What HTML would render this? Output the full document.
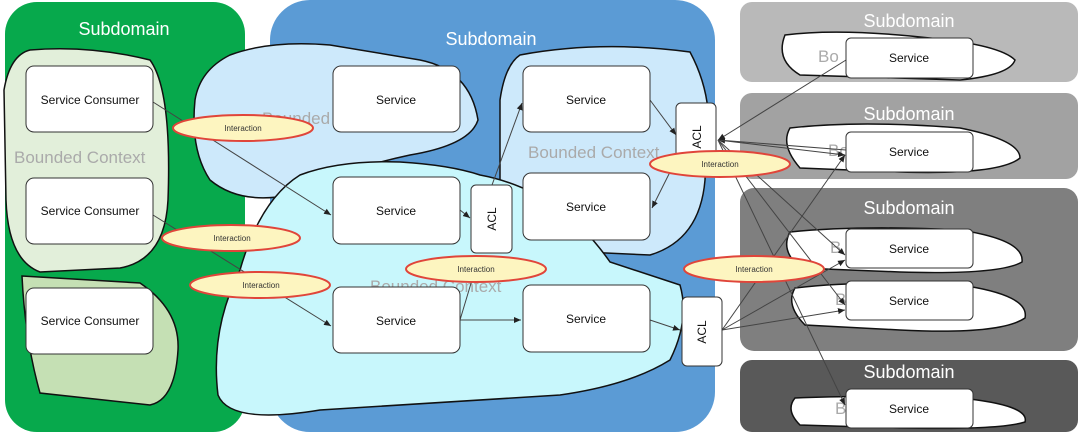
<!DOCTYPE html>
<html><head><meta charset="utf-8"><style>
html,body{margin:0;padding:0;background:#fff;width:1080px;height:435px;overflow:hidden}
text{font-family:"Liberation Sans",sans-serif}
</style></head><body>
<svg width="1080" height="435" viewBox="0 0 1080 435" xmlns="http://www.w3.org/2000/svg">
<defs><marker id="a" markerWidth="8" markerHeight="8" refX="7" refY="4" orient="auto"><path d="M0,1 L7,4 L0,7z" fill="#222"/></marker></defs>
<rect x="5" y="2" width="240" height="430" rx="32" fill="#07a94c"/>
<rect x="270" y="0" width="445" height="432" rx="40" fill="#5b9bd5"/>
<rect x="740" y="2" width="338" height="80" rx="12" fill="#b9b9b9"/>
<rect x="740" y="93" width="338" height="86" rx="12" fill="#a2a2a2"/>
<rect x="740" y="188" width="338" height="163" rx="14" fill="#7f7f7f"/>
<rect x="740" y="360" width="338" height="72" rx="12" fill="#595959"/>
<g fill="#fff" font-size="18" text-anchor="middle">
<text x="124" y="35">Subdomain</text><text x="491" y="45">Subdomain</text>
<text x="909" y="27">Subdomain</text><text x="909" y="120">Subdomain</text>
<text x="909" y="214">Subdomain</text><text x="909" y="378">Subdomain</text></g>
<g stroke="#111" stroke-width="1.5">
<path d="M30,50 Q90,45 150,60 Q172,90 168,200 Q165,260 120,268 L40,272 Q8,260 6,200 L4,90 Q10,55 30,50z" fill="#e2efda"/>
<path d="M22,276 L140,283 Q180,310 178,350 Q175,400 150,405 L40,393 Q25,340 22,276z" fill="#c5e0b4"/>
<path d="M230,55 Q270,40 330,45 L420,60 Q470,70 478,120 Q470,145 410,155 Q340,170 290,195 Q240,205 210,180 Q190,150 195,100 Q200,70 230,55z" fill="#cde9fb"/>
<path d="M520,55 Q600,40 690,52 Q705,80 708,110 L705,180 Q700,240 650,255 L540,250 Q505,240 500,200 L500,100 Q505,65 520,55z" fill="#cde9fb"/>
<path d="M300,175 Q340,160 400,162 Q450,165 480,175 Q560,190 610,262 Q650,275 680,285 Q690,320 670,360 Q630,385 560,395 L320,410 Q230,425 218,395 Q210,330 240,270 Q260,200 300,175z" fill="#c8f7fc"/>
<path d="M785,35 Q840,28 930,38 Q1000,45 1015,60 Q1010,75 960,80 L800,75 Q775,60 785,35z" fill="#fff"/>
<path d="M790,128 Q860,120 960,128 Q1020,140 1020,158 Q1000,175 900,172 L800,168 Q780,145 790,128z" fill="#fff"/>
<path d="M790,232 Q860,225 960,230 Q1025,240 1022,262 Q1000,275 900,272 L800,268 Q780,250 790,232z" fill="#fff"/>
<path d="M795,288 Q860,280 960,285 Q1030,295 1025,318 Q1000,335 900,330 L805,325 Q785,305 795,288z" fill="#fff"/>
<path d="M795,398 Q860,395 960,398 Q1030,405 1025,422 Q1000,430 900,428 L800,425 Q785,410 795,398z" fill="#fff"/>
</g>
<g fill="#aaa" font-size="17"><text x="14" y="163">Bounded Context</text><text x="262" y="124">Bounded</text>
<text x="528" y="158">Bounded Context</text><text x="370" y="292">Bounded Context</text>
<text x="818" y="62">Bo</text><text x="828" y="156">Bo</text><text x="830" y="253">B</text><text x="835" y="305">B</text><text x="835" y="414">B</text></g>
<g stroke="#444" stroke-width="1" fill="none" marker-end="url(#a)">
<line x1="153" y1="102" x2="331" y2="215"/><line x1="153" y1="215" x2="331" y2="326"/>
<line x1="460" y1="210" x2="470" y2="218"/><line x1="492" y1="185" x2="522" y2="103"/>
<line x1="460" y1="320" x2="521" y2="320"/><line x1="460" y1="320" x2="478" y2="260"/>
<line x1="650" y1="320" x2="680" y2="330"/><line x1="650" y1="100" x2="676" y2="135"/>
<line x1="676" y1="160" x2="652" y2="208"/>
<line x1="846" y1="60" x2="718" y2="140"/><line x1="846" y1="150" x2="718" y2="140"/>
<line x1="718" y1="140" x2="845" y2="155"/><line x1="718" y1="140" x2="845" y2="255"/>
<line x1="718" y1="140" x2="845" y2="305"/><line x1="718" y1="140" x2="845" y2="405"/>
<line x1="722" y1="330" x2="845" y2="155"/><line x1="722" y1="330" x2="845" y2="260"/>
<line x1="722" y1="330" x2="845" y2="310"/></g>
<g fill="#fff" stroke="#333" stroke-width="1">
<rect x="26" y="66" width="127" height="66" rx="8"/><rect x="26" y="178" width="127" height="66" rx="8"/><rect x="26" y="288" width="127" height="66" rx="8"/>
<rect x="333" y="66" width="127" height="66" rx="8"/><rect x="333" y="177" width="127" height="67" rx="8"/><rect x="333" y="287" width="127" height="66" rx="8"/>
<rect x="523" y="66" width="127" height="66" rx="8"/><rect x="523" y="173" width="127" height="67" rx="8"/><rect x="523" y="285" width="127" height="67" rx="8"/>
<rect x="471" y="185" width="41" height="68" rx="5"/><rect x="676" y="103" width="40" height="67" rx="5"/><rect x="682" y="297" width="40" height="69" rx="5"/>
<rect x="846" y="38" width="127" height="40" rx="5"/><rect x="846" y="132" width="127" height="40" rx="5"/><rect x="846" y="229" width="127" height="39" rx="5"/><rect x="846" y="281" width="127" height="39" rx="5"/><rect x="846" y="389" width="127" height="39" rx="5"/></g>
<g fill="#111" font-size="12" text-anchor="middle">
<text x="90" y="104">Service Consumer</text><text x="90" y="215">Service Consumer</text><text x="90" y="325">Service Consumer</text>
<text x="396" y="104">Service</text><text x="396" y="215">Service</text><text x="396" y="325">Service</text>
<text x="586" y="104">Service</text><text x="586" y="211">Service</text><text x="586" y="323">Service</text>
<text x="909" y="62">Service</text><text x="909" y="156">Service</text><text x="909" y="253">Service</text><text x="909" y="305">Service</text><text x="909" y="413">Service</text>
<text transform="translate(496,219) rotate(-90)">ACL</text><text transform="translate(701,137) rotate(-90)">ACL</text><text transform="translate(706,332) rotate(-90)">ACL</text></g>
<g fill="#fdf5c0" stroke="#e0453a" stroke-width="2">
<ellipse cx="243" cy="128" rx="70" ry="13"/><ellipse cx="231" cy="238" rx="69" ry="13"/><ellipse cx="260" cy="285" rx="70" ry="13"/>
<ellipse cx="476" cy="269" rx="70" ry="13"/><ellipse cx="720" cy="164" rx="70" ry="13"/><ellipse cx="754" cy="269" rx="70" ry="13"/></g>
<g fill="#333" font-size="8" text-anchor="middle">
<text x="243" y="131">Interaction</text><text x="232" y="241">Interaction</text><text x="261" y="288">Interaction</text>
<text x="476" y="272">Interaction</text><text x="720" y="167">Interaction</text><text x="754" y="272">Interaction</text></g>
</svg>
</body></html>
